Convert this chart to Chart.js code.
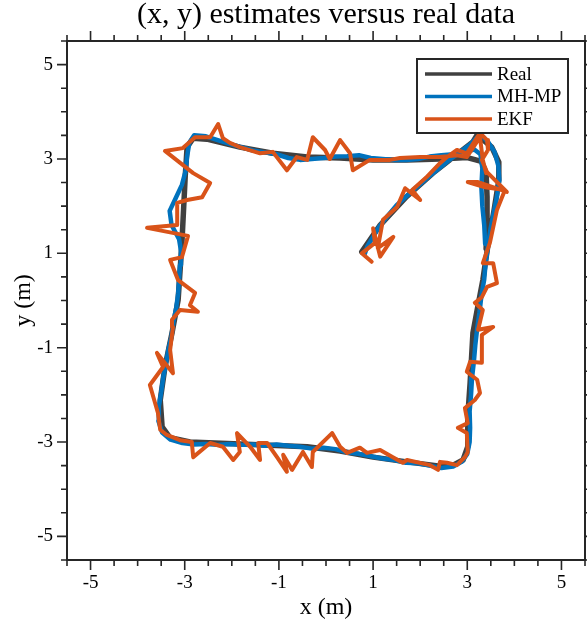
<!DOCTYPE html>
<html lang="en">

<head>
    <meta charset="UTF-8">
    <title>(x, y) estimates versus real data</title>
    <script src="https://cdn.jsdelivr.net/npm/chart.js@4/dist/chart.umd.min.js"></script>
    <style>
        body {
            margin: 0;
            background: #fff;
        }

        canvas {
            display: block;
        }
    </style>
</head>

<body>
    <canvas id="trackChart" width="587" height="622"></canvas>

    <script>
        // axis ticks
        const tickVals = [-5, -3, -1, 1, 3, 5];
        const tickLabels = ['-5', '-3', '-1', '1', '3', '5'];

        // real trajectory
        const realX = [0.76, 1.15, 1.71, 2.27, 2.63, 3.12, 3.21, 3.52, 3.67, 3.67, 3.57, 3.44, 3.33, 3.21, 3.12, 3.06, 3.01, 3.01, 2.91, 2.70, 2.42, 1.72, 1.00, 0.30, -0.40, -1.83, -2.89, -3.31, -3.48, -3.52, -3.42, -3.27, -3.14, -3.06, -2.99, -2.95, -2.82, -2.53, -1.83, -1.13, -0.40, 0.30, 1.00, 1.72, 2.42, 3.00, 3.30, 3.40, 3.42, 3.42, 3.40];
        const realY = [1.03, 1.60, 2.20, 2.70, 2.98, 3.36, 3.51, 3.25, 2.93, 2.55, 1.92, 1.18, 0.43, -0.20, -0.69, -1.75, -2.47, -3.10, -3.38, -3.49, -3.51, -3.42, -3.32, -3.19, -3.10, -3.04, -3.00, -2.91, -2.68, -2.11, -1.41, -0.69, 0.01, 1.22, 2.62, 3.25, 3.44, 3.42, 3.25, 3.12, 3.04, 3.02, 2.98, 2.98, 3.00, 3.03, 2.95, 2.70, 2.20, 1.60, 1.10];

        // MH-MP estimate
        const mhX = [0.82, 0.88, 1.00, 1.12, 1.30, 1.50, 1.72, 1.95, 2.18, 2.40, 2.62, 2.85, 3.05, 3.20, 3.30, 3.45, 3.58, 3.66, 3.68, 3.63, 3.56, 3.49, 3.44, 3.39, 3.36, 3.30, 3.26, 3.21, 3.17, 3.14, 3.10, 3.08, 3.05, 3.06, 3.05, 3.00, 2.88, 2.70, 2.45, 2.20, 1.95, 1.70, 1.45, 1.20, 0.95, 0.70, 0.45, 0.20, -0.05, -0.30, -0.55, -0.80, -1.05, -1.30, -1.55, -1.80, -2.05, -2.30, -2.55, -2.80, -3.05, -3.30, -3.48, -3.56, -3.55, -3.50, -3.46, -3.40, -3.35, -3.28, -3.24, -3.18, -3.14, -3.12, -3.10, -3.08, -3.12, -3.28, -3.32, -3.20, -3.06, -2.98, -2.95, -2.90, -2.80, -2.55, -2.30, -2.05, -1.80, -1.55, -1.30, -1.05, -0.80, -0.55, -0.30, -0.05, 0.20, 0.45, 0.70, 0.95, 1.20, 1.45, 1.70, 1.95, 2.20, 2.45, 2.70, 2.95, 3.15, 3.28, 3.32, 3.30, 3.32, 3.36, 3.38];
        const mhY = [0.98, 1.15, 1.35, 1.55, 1.78, 2.02, 2.22, 2.42, 2.62, 2.80, 2.98, 3.15, 3.30, 3.45, 3.50, 3.35, 3.15, 2.85, 2.55, 2.20, 1.85, 1.50, 1.15, 0.80, 0.45, 0.10, -0.25, -0.60, -0.95, -1.30, -1.65, -2.00, -2.35, -2.70, -3.00, -3.25, -3.42, -3.52, -3.55, -3.50, -3.45, -3.44, -3.38, -3.35, -3.30, -3.25, -3.22, -3.15, -3.12, -3.14, -3.10, -3.08, -3.05, -3.08, -3.05, -3.06, -3.04, -3.06, -3.04, -3.05, -3.02, -2.95, -2.80, -2.55, -2.25, -1.95, -1.65, -1.35, -1.05, -0.75, -0.45, -0.15, 0.15, 0.45, 0.75, 1.05, 1.30, 1.60, 1.90, 2.15, 2.45, 2.75, 3.05, 3.35, 3.50, 3.48, 3.40, 3.32, 3.25, 3.18, 3.14, 3.10, 3.02, 2.98, 3.00, 3.02, 3.05, 3.06, 3.08, 3.02, 3.00, 2.98, 2.98, 3.00, 3.05, 3.08, 3.10, 3.15, 3.20, 3.10, 2.80, 2.40, 2.00, 1.60, 1.20];

        // EKF estimate
        const ekfX = [0.97, 0.76, 1.04, 1.00, 1.15, 1.43, 1.10, 1.21, 1.51, 1.68, 2.00, 1.83, 2.14, 2.42, 2.57, 2.78, 2.99, 3.21, 3.27, 3.42, 3.44, 3.31, 3.42, 3.84, 3.23, 3.01, 3.38, 3.80, 3.63, 3.48, 3.33, 3.55, 3.63, 3.42, 3.31, 3.16, 3.33, 3.23, 3.55, 3.31, 3.31, 3.06, 2.99, 3.21, 3.27, 3.16, 2.95, 3.01, 2.80, 2.99, 3.01, 2.95, 2.78, 2.57, 2.42, 2.38, 2.21, 1.72, 1.63, 1.42, 1.15, 0.87, 0.72, 0.45, 0.30, 0.13, -0.28, -0.30, -0.49, -0.72, -0.91, -0.83, -1.04, -1.25, -1.44, -1.40, -1.61, -1.89, -1.83, -1.97, -2.19, -2.46, -2.82, -2.85, -3.10, -3.38, -3.52, -3.57, -3.74, -3.46, -3.59, -3.25, -3.31, -3.25, -3.27, -3.10, -2.72, -2.89, -2.78, -3.14, -3.31, -3.06, -2.93, -3.80, -3.16, -3.16, -2.95, -2.63, -2.46, -2.82, -3.42, -3.04, -2.78, -2.46, -2.29, -2.19, -2.04, -1.83, -1.40, -1.13, -0.83, -0.62, -0.40, -0.28, -0.02, 0.08, 0.30, 0.51, 0.57, 0.93, 1.36, 1.57, 2.00, 2.42, 2.78, 2.99, 3.27, 3.33, 3.40];
        const ekfY = [0.82, 1.00, 1.22, 1.53, 0.93, 1.35, 1.11, 1.71, 1.98, 2.38, 2.13, 2.34, 2.62, 2.91, 3.04, 3.19, 3.12, 3.46, 3.55, 3.40, 3.19, 2.98, 2.72, 2.30, 2.51, 2.51, 2.40, 2.34, 1.92, 1.22, 0.79, 0.79, 0.37, 0.29, 0.07, -0.05, -0.20, -0.62, -0.56, -0.73, -1.32, -1.30, -1.51, -1.68, -1.96, -2.11, -2.28, -2.60, -2.70, -2.81, -3.21, -3.32, -3.49, -3.44, -3.42, -3.59, -3.49, -3.38, -3.44, -3.32, -3.17, -3.23, -3.12, -3.23, -3.10, -2.81, -3.21, -3.53, -3.21, -3.59, -3.27, -3.63, -3.32, -3.02, -3.02, -3.38, -3.10, -2.81, -3.21, -3.38, -3.10, -3.02, -3.32, -3.00, -2.96, -2.85, -2.74, -2.38, -1.79, -1.41, -1.11, -1.54, -1.05, -0.56, -0.41, -0.20, -0.24, -0.10, 0.16, 0.43, 0.86, 0.92, 1.37, 1.54, 1.60, 2.07, 2.13, 2.19, 2.49, 2.70, 3.17, 3.23, 3.46, 3.46, 3.74, 3.44, 3.34, 3.25, 3.12, 3.15, 2.76, 3.04, 2.98, 3.46, 3.19, 3.00, 3.40, 3.12, 2.76, 2.98, 2.98, 3.02, 3.04, 3.04, 3.08, 3.04, 3.46, 2.98, 2.70];

        const toPoints = (xs, ys) => xs.map((v, i) => ({ x: v, y: ys[i] }));

        const serif = "'Liberation Serif', 'Times New Roman', serif";
        const ink = '#262626';

        // box round the plot, ticks on all four sides
        const framePlugin = {
            id: 'frame',
            afterDatasetsDraw(chart) {
                const { ctx, chartArea: a, scales } = chart;
                ctx.save();
                ctx.strokeStyle = ink;
                ctx.lineWidth = 2;
                ctx.strokeRect(a.left, a.top, a.right - a.left, a.bottom - a.top);
                ctx.lineWidth = 1.6;
                for (let k = -11; k <= 11; k++) {
                    const v = k / 2;
                    const len = tickVals.includes(v) ? 10 : 6;
                    const px = scales.x.getPixelForValue(v);
                    const py = scales.y.getPixelForValue(v);
                    ctx.beginPath();
                    ctx.moveTo(px, a.bottom); ctx.lineTo(px, a.bottom + len);
                    ctx.moveTo(px, a.top); ctx.lineTo(px, a.top - len);
                    ctx.moveTo(a.left, py); ctx.lineTo(a.left - len, py);
                    ctx.moveTo(a.right, py); ctx.lineTo(a.right + len, py);
                    ctx.stroke();
                }
                ctx.restore();
            }
        };

        // legend box in the upper right corner
        const boxLegend = {
            id: 'boxLegend',
            afterDraw(chart) {
                const { ctx } = chart;
                const sets = chart.data.datasets;
                ctx.save();
                ctx.fillStyle = '#fff';
                ctx.fillRect(417, 59, 151, 74);
                ctx.strokeStyle = ink;
                ctx.lineWidth = 2;
                ctx.strokeRect(417, 59, 151, 74);
                ctx.font = '19px ' + serif;
                ctx.textBaseline = 'middle';
                ctx.fillStyle = '#000';
                sets.forEach((ds, i) => {
                    const y = 74 + i * 22.5;
                    ctx.strokeStyle = ds.borderColor;
                    ctx.lineWidth = 3.5;
                    ctx.beginPath();
                    ctx.moveTo(425, y);
                    ctx.lineTo(492, y);
                    ctx.stroke();
                    ctx.fillText(ds.label, 497, y + 1);
                });
                ctx.restore();
            }
        };

        const ctx = document.getElementById('trackChart').getContext('2d');
        const trackChart = new Chart(ctx, {
            type: 'scatter',
            data: {
                datasets: [{
                    label: 'Real',
                    data: toPoints(realX, realY),
                    borderColor: '#404040',
                    borderWidth: 5.5,
                    order: 3
                }, {
                    label: 'MH-MP',
                    data: toPoints(mhX, mhY),
                    borderColor: '#0072BD',
                    borderWidth: 4.5,
                    order: 2
                }, {
                    label: 'EKF',
                    data: toPoints(ekfX, ekfY),
                    borderColor: '#D95319',
                    borderWidth: 4,
                    order: 1
                }]
            },
            options: {
                responsive: false,
                animation: false,
                devicePixelRatio: 1,
                showLine: true,
                elements: {
                    point: { radius: 0, hoverRadius: 0 },
                    line: { tension: 0, borderJoinStyle: 'round', borderCapStyle: 'round' }
                },
                layout: {
                    autoPadding: false,
                    padding: { left: 0, right: 2, top: 0, bottom: 0 }
                },
                scales: {
                    x: {
                        type: 'linear',
                        min: -5.5,
                        max: 5.5,
                        afterBuildTicks: (s) => { s.ticks = tickVals.map(v => ({ value: v })); },
                        afterFit: (s) => { s.height = 62; },
                        grid: { display: false, drawTicks: false },
                        border: { display: false },
                        ticks: {
                            callback: (v, i) => tickLabels[i],
                            autoSkip: false,
                            maxRotation: 0,
                            padding: 12,
                            color: '#000',
                            font: { family: serif, size: 19 }
                        },
                        title: {
                            display: true,
                            text: 'x (m)',
                            color: '#000',
                            font: { family: serif, size: 24 },
                            padding: { top: 0, bottom: 0 }
                        }
                    },
                    y: {
                        type: 'linear',
                        min: -5.5,
                        max: 5.5,
                        afterBuildTicks: (s) => { s.ticks = tickVals.map(v => ({ value: v })); },
                        afterFit: (s) => { s.width = 67; },
                        grid: { display: false, drawTicks: false },
                        border: { display: false },
                        ticks: {
                            callback: (v, i) => tickLabels[i],
                            autoSkip: false,
                            padding: 14,
                            color: '#000',
                            font: { family: serif, size: 19 }
                        },
                        title: {
                            display: true,
                            text: 'y (m)',
                            color: '#000',
                            font: { family: serif, size: 24 },
                            padding: { top: 9, bottom: 0 }
                        }
                    }
                },
                plugins: {
                    legend: { display: false },
                    tooltip: { enabled: false },
                    title: {
                        display: true,
                        fullSize: false,
                        text: '(x, y) estimates versus real data',
                        color: '#000',
                        font: { family: serif, size: 30, weight: 'normal', lineHeight: 1 },
                        padding: { top: 0, bottom: 11 }
                    }
                }
            },
            plugins: [framePlugin, boxLegend]
        });
    </script>
</body>

</html>
